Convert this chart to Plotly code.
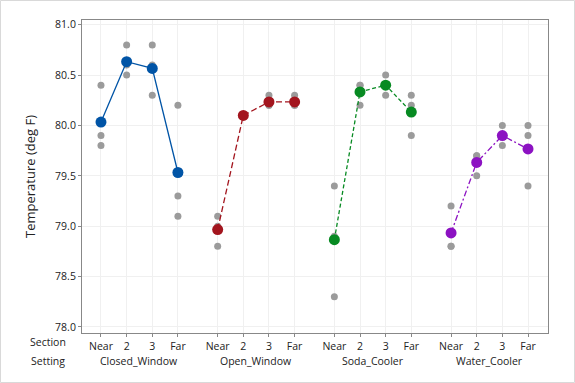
import plotly.graph_objects as go

settings = ["Closed_Window", "Open_Window", "Soda_Cooler", "Water_Cooler"]
sections = ["Near", "2", "3", "Far"]

# individual observations (3 per cell), by setting then section
obs = {
    "Closed_Window": [[80.4, 79.9, 79.8], [80.8, 80.5, 80.6], [80.8, 80.3, 80.6], [80.2, 79.3, 79.1]],
    "Open_Window":   [[79.1, 78.8, 79.0], [80.1, 80.1, 80.1], [80.3, 80.2, 80.2], [80.3, 80.2, 80.2]],
    "Soda_Cooler":   [[79.4, 78.3, 78.9], [80.4, 80.2, 80.4], [80.5, 80.3, 80.4], [80.3, 80.2, 79.9]],
    "Water_Cooler":  [[79.2, 78.8, 78.8], [79.7, 79.5, 79.7], [80.0, 79.8, 79.9], [79.9, 80.0, 79.4]],
}

colors = {"Closed_Window": "#0054A6", "Open_Window": "#A3151E",
          "Soda_Cooler": "#078A22", "Water_Cooler": "#8C12C2"}
dashes = {"Closed_Window": "solid", "Open_Window": "6px,3px",
          "Soda_Cooler": "4px,2.5px", "Water_Cooler": "6px,2.5px,2px,2.5px"}

G = 4.55
fig = go.Figure()

tickvals, ticktext = [], []
for g, st in enumerate(settings):
    xs = [g * G + s for s in range(len(sections))]
    tickvals += xs
    ticktext += sections
    gx, gy = [], []
    for s, vals in enumerate(obs[st]):
        gx += [xs[s]] * len(vals)
        gy += vals
    fig.add_trace(go.Scatter(x=gx, y=gy, mode="markers",
                             marker=dict(color="#9B9B9B", size=7), showlegend=False))
for g, st in enumerate(settings):
    xs = [g * G + s for s in range(len(sections))]
    means = [sum(v) / len(v) for v in obs[st]]
    fig.add_trace(go.Scatter(x=xs, y=means, mode="lines+markers",
                             line=dict(color=colors[st], width=1.3, dash=dashes[st]),
                             marker=dict(color=colors[st], size=11), showlegend=False))

font = "Open Sans, Noto Sans, sans-serif"
W, H = 575, 383
L, R, T, B = 82, 27, 20, 50
pw, ph = W - L - R, H - T - B

annotations = []
for g, st in enumerate(settings):
    annotations.append(dict(x=g * G + 1.5, y=-(361 - (T + ph)) / ph, xref="x", yref="paper",
                            text=st, showarrow=False, font=dict(size=10.5, color="#222"),
                            xanchor="center", yanchor="middle"))
for lab, py in [("Section", 342), ("Setting", 361)]:
    annotations.append(dict(x=(48 - L) / pw, y=-(py - (T + ph)) / ph, xref="paper", yref="paper",
                            text=lab, showarrow=False, font=dict(size=10.5, color="#222"),
                            xanchor="center", yanchor="middle"))

fig.update_layout(
    width=W, height=H, margin=dict(l=L, r=R, t=T, b=B),
    paper_bgcolor="white", plot_bgcolor="white",
    font=dict(family=font, size=10.5, color="#222"),
    annotations=annotations,
    shapes=[dict(type="rect", xref="paper", yref="paper",
                 x0=(0.5 - L) / pw, x1=(W - 0.5 - L) / pw,
                 y0=((T + ph) - (H - 0.5)) / ph, y1=((T + ph) - 0.5) / ph,
                 line=dict(color="#D9D9D9", width=1))],
    xaxis=dict(range=[-0.74, 3 * G + 3 + 0.78], tickvals=tickvals, ticktext=ticktext,
               showgrid=True, gridcolor="#F0F0F0", zeroline=False,
               showline=True, linecolor="#888", linewidth=1, mirror=True,
               ticks="outside", ticklen=3, tickcolor="#888",
               tickfont=dict(size=10.5)),
    yaxis=dict(range=[77.94, 81.047], dtick=0.5, tickformat=".1f",
               showgrid=True, gridcolor="#F0F0F0", zeroline=False,
               showline=True, linecolor="#888", linewidth=1, mirror=True,
               ticks="outside", ticklen=3, tickcolor="#888",
               tickfont=dict(size=10.5),
               title=dict(text="Temperature (deg F)", font=dict(size=13), standoff=16)),
)

fig.write_html("out.html", config={"displayModeBar": False},
               post_script="document.body.style.margin='0';")
